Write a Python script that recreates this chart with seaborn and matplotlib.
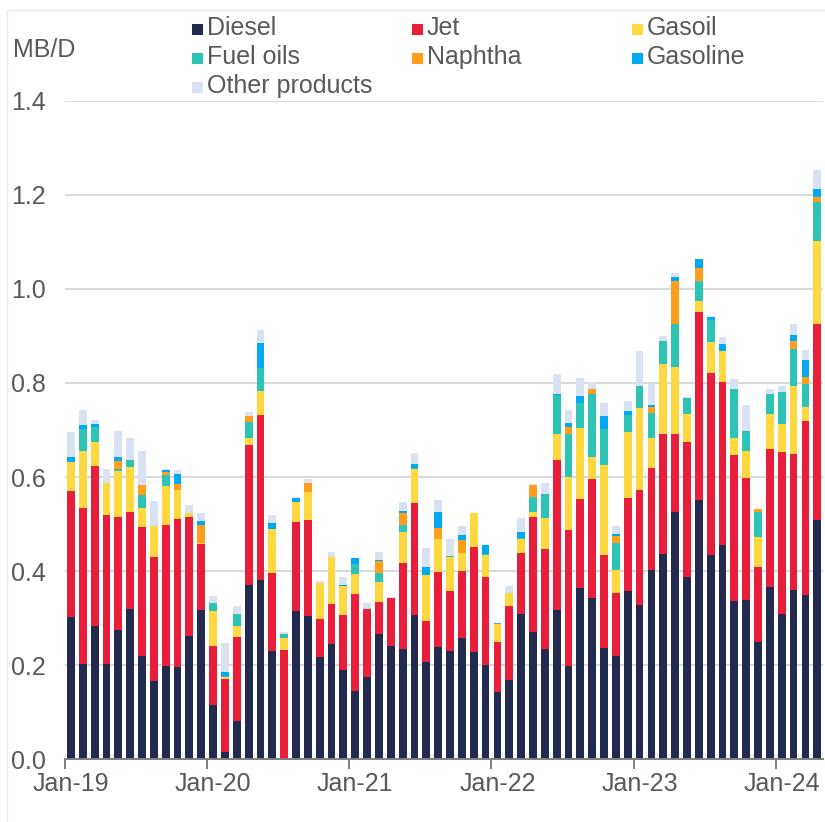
import numpy as np
import pandas as pd
import matplotlib
matplotlib.use("Agg")
import matplotlib.pyplot as plt
from matplotlib.patches import Rectangle
from matplotlib.lines import Line2D
import seaborn as sns

# Monthly categories, Jan-2019 .. Apr-2024
months = pd.date_range("2019-01-01", "2024-04-01", freq="MS")
month_labels = [d.strftime("%b-%y") for d in months]

# Exports by product, million barrels per day
diesel = [0.302, 0.203, 0.284, 0.203, 0.275, 0.319, 0.220, 0.166, 0.198, 0.196, 0.261, 0.316,
          0.115, 0.014, 0.080, 0.371, 0.380, 0.230, 0.000, 0.314, 0.305, 0.216, 0.245, 0.189,
          0.145, 0.174, 0.265, 0.240, 0.233, 0.306, 0.207, 0.238, 0.230, 0.258, 0.228, 0.201,
          0.142, 0.169, 0.308, 0.270, 0.233, 0.318, 0.198, 0.363, 0.342, 0.236, 0.220, 0.358,
          0.328, 0.402, 0.436, 0.526, 0.387, 0.551, 0.435, 0.455, 0.336, 0.338, 0.250, 0.367,
          0.308, 0.360, 0.350, 0.508]
jet = [0.268, 0.332, 0.339, 0.316, 0.239, 0.206, 0.273, 0.264, 0.299, 0.315, 0.254, 0.142,
       0.125, 0.156, 0.180, 0.298, 0.352, 0.166, 0.231, 0.190, 0.203, 0.081, 0.084, 0.117,
       0.206, 0.146, 0.069, 0.103, 0.185, 0.238, 0.087, 0.159, 0.127, 0.141, 0.223, 0.186,
       0.107, 0.156, 0.130, 0.244, 0.213, 0.318, 0.290, 0.191, 0.254, 0.198, 0.133, 0.197,
       0.245, 0.218, 0.256, 0.166, 0.287, 0.399, 0.386, 0.347, 0.310, 0.259, 0.158, 0.292,
       0.345, 0.288, 0.370, 0.417]
gasoil = [0.062, 0.120, 0.051, 0.068, 0.098, 0.096, 0.041, 0.066, 0.084, 0.061, 0.009, 0.002,
          0.074, 0.004, 0.024, 0.015, 0.052, 0.094, 0.027, 0.042, 0.060, 0.077, 0.100, 0.063,
          0.042, 0.000, 0.042, 0.000, 0.066, 0.073, 0.098, 0.071, 0.073, 0.039, 0.072, 0.047,
          0.038, 0.029, 0.031, 0.012, 0.067, 0.055, 0.112, 0.151, 0.047, 0.192, 0.049, 0.141,
          0.174, 0.062, 0.148, 0.141, 0.059, 0.024, 0.066, 0.066, 0.037, 0.059, 0.064, 0.074,
          0.059, 0.146, 0.029, 0.178]
fuel_oils = [0.000, 0.047, 0.032, 0.000, 0.005, 0.015, 0.027, 0.000, 0.024, 0.000, 0.000, 0.000,
             0.017, 0.003, 0.025, 0.034, 0.048, 0.000, 0.009, 0.000, 0.000, 0.000, 0.000, 0.000,
             0.022, 0.000, 0.019, 0.000, 0.013, 0.003, 0.000, 0.000, 0.002, 0.000, 0.000, 0.003,
             0.003, 0.000, 0.002, 0.032, 0.050, 0.083, 0.091, 0.052, 0.134, 0.076, 0.058, 0.036,
             0.047, 0.055, 0.050, 0.092, 0.035, 0.042, 0.047, 0.000, 0.104, 0.041, 0.053, 0.043,
             0.068, 0.078, 0.048, 0.082]
naphtha = [0.000, 0.000, 0.000, 0.000, 0.017, 0.000, 0.021, 0.000, 0.006, 0.013, 0.000, 0.037,
           0.000, 0.000, 0.000, 0.011, 0.000, 0.000, 0.000, 0.000, 0.019, 0.000, 0.000, 0.000,
           0.000, 0.000, 0.026, 0.000, 0.027, 0.000, 0.000, 0.023, 0.000, 0.029, 0.000, 0.000,
           0.000, 0.000, 0.000, 0.025, 0.000, 0.000, 0.015, 0.000, 0.011, 0.000, 0.014, 0.000,
           0.000, 0.012, 0.000, 0.093, 0.000, 0.028, 0.000, 0.000, 0.000, 0.000, 0.006, 0.000,
           0.000, 0.017, 0.016, 0.011]
gasoline = [0.010, 0.008, 0.007, 0.000, 0.008, 0.000, 0.000, 0.000, 0.004, 0.022, 0.000, 0.009,
            0.000, 0.008, 0.000, 0.000, 0.053, 0.012, 0.000, 0.009, 0.000, 0.000, 0.000, 0.002,
            0.012, 0.000, 0.003, 0.000, 0.004, 0.007, 0.016, 0.034, 0.000, 0.009, 0.000, 0.019,
            0.000, 0.000, 0.011, 0.000, 0.000, 0.003, 0.008, 0.016, 0.000, 0.027, 0.005, 0.009,
            0.000, 0.004, 0.000, 0.008, 0.000, 0.019, 0.006, 0.015, 0.000, 0.000, 0.000, 0.000,
            0.000, 0.013, 0.035, 0.017]
other = [0.053, 0.033, 0.008, 0.030, 0.056, 0.048, 0.074, 0.053, 0.003, 0.008, 0.016, 0.018,
         0.015, 0.062, 0.017, 0.009, 0.027, 0.017, 0.004, 0.002, 0.009, 0.004, 0.011, 0.016,
         0.000, 0.011, 0.016, 0.002, 0.018, 0.025, 0.040, 0.027, 0.037, 0.019, 0.000, 0.000,
         0.000, 0.015, 0.031, 0.002, 0.024, 0.042, 0.029, 0.038, 0.015, 0.029, 0.017, 0.021,
         0.074, 0.045, 0.011, 0.008, 0.002, 0.000, 0.000, 0.015, 0.021, 0.056, 0.000, 0.011,
         0.014, 0.023, 0.023, 0.041]

series_names = ["Diesel", "Jet", "Gasoil", "Fuel oils", "Naphtha", "Gasoline", "Other products"]
series_values = [diesel, jet, gasoil, fuel_oils, naphtha, gasoline, other]
series_colors = ["#232A50", "#E81E3A", "#FFD73F", "#2EC4B5", "#FF9E1C", "#00A9F4", "#D9E2F3"]

y_ticks = [0.0, 0.2, 0.4, 0.6, 0.8, 1.0, 1.2, 1.4]
x_tick_labels = ["Jan-19", "Jan-20", "Jan-21", "Jan-22", "Jan-23", "Jan-24"]

sns.set_theme(style="white")
plt.rcParams["font.family"] = ["Liberation Sans", "DejaVu Sans"]
TEXT = "#595959"
FS = 18

W, H = 825, 822
fig = plt.figure(figsize=(W / 100, H / 100), dpi=100)
fig.patch.set_facecolor("white")
ax = fig.add_axes([65 / W, 1 - 759 / H, (823.2 - 65) / W, (759 - 101) / H])

# stacked bars: draw cumulative totals from the top layer down
cum = np.cumsum(np.array(series_values), axis=0)
for k in reversed(range(len(series_names))):
    sns.barplot(x=month_labels, y=cum[k], order=month_labels, color=series_colors[k],
                saturation=1, width=0.66, errorbar=None, linewidth=0, ax=ax)

ax.set_xlim(-0.5, len(month_labels) - 0.5)
ax.set_ylim(0, 1.4)
ax.set_yticks(y_ticks, labels=[f"{v:.1f}" for v in y_ticks])
ax.yaxis.grid(True, color="#D9D9D9", linewidth=1.4)
ax.set_axisbelow(True)
ax.tick_params(axis="y", length=0, pad=14, labelsize=FS, labelcolor=TEXT)

jan_pos = [month_labels.index(l) for l in x_tick_labels]
ax.set_xticks(jan_pos, labels=x_tick_labels)
ax.set_xticks([p - 0.5 for p in jan_pos], minor=True)
ax.tick_params(axis="x", which="major", length=0, pad=9, labelsize=FS, labelcolor=TEXT)
ax.tick_params(axis="x", which="minor", length=7, width=1.4, color="#808080", bottom=True)
ax.set_xlabel("")
ax.set_ylabel("")

for s in ["left", "right", "top"]:
    ax.spines[s].set_visible(False)
ax.spines["bottom"].set_color("#808080")
ax.spines["bottom"].set_linewidth(1.4)

fig.text(13 / W, 1 - 57 / H, "MB/D", ha="left", va="baseline", fontsize=FS, color=TEXT)

# legend laid out in three columns
col_x = [191.7, 411.7, 631.7]
row_base = [35.0, 63.8, 92.6]
layout = [(0, 0), (0, 1), (0, 2), (1, 0), (1, 1), (1, 2), (2, 0)]
for (row, col), name, color in zip(layout, series_names, series_colors):
    x0 = col_x[col]
    yb = row_base[row]
    fig.add_artist(Rectangle((x0 / W, 1 - yb / H), 11 / W, 11 / H,
                             transform=fig.transFigure, facecolor=color, edgecolor="none"))
    fig.text((x0 + 15) / W, 1 - yb / H, name, ha="left", va="baseline",
             fontsize=FS, color=TEXT)

# thin frame at the top and left of the canvas
fig.add_artist(Line2D([7 / W, 1], [1 - 10 / H, 1 - 10 / H], transform=fig.transFigure,
                      color="#EBEBEB", linewidth=1))
fig.add_artist(Line2D([7 / W, 7 / W], [0, 1 - 10 / H], transform=fig.transFigure,
                      color="#EBEBEB", linewidth=1))

fig.savefig("out.png", dpi=100, facecolor="white")
